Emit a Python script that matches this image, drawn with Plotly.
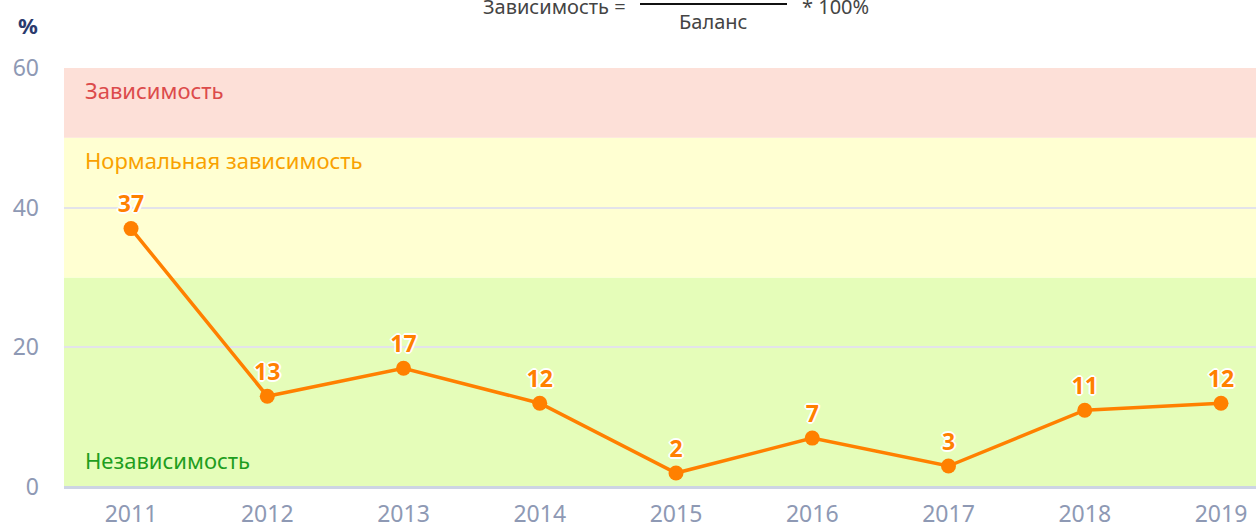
import plotly.graph_objects as go

years = ["2011", "2012", "2013", "2014", "2015", "2016", "2017", "2018", "2019"]
values = [37, 13, 17, 12, 2, 7, 3, 11, 12]

# зоны: нижняя граница, верхняя граница, цвет фона, подпись, цвет подписи
zone_low = [0, 30, 50]
zone_high = [30, 50, 60]
zone_fill = ["#e5fdb9", "#ffffd2", "#fde0d8"]
zone_names = ["Независимость", "Нормальная зависимость", "Зависимость"]
zone_text = ["#1e9e1e", "#f9a100", "#dc4b4b"]

W, H = 1256, 529
L, R, T, B = 64, 0, 68, 42
FONT = "Noto Sans"

idx = list(range(len(years)))


def px_y(py):
    # пиксель -> paper по вертикали
    return (H - B - py) / (H - T - B)


def px_x(px):
    return (px - L) / (W - L - R)


fig = go.Figure()

fig.add_trace(go.Scatter(
    x=idx,
    y=values,
    mode="lines+markers+text",
    line=dict(color="#ff8000", width=3.5),
    marker=dict(color="#ff8000", size=15),
    text=[str(v) for v in values],
    textposition="top center",
    textfont=dict(family=FONT, size=23, color="#ff8000", weight="bold",
                  shadow="1px 1px 0 #fff, -1px -1px 0 #fff, 1px -1px 0 #fff, -1px 1px 0 #fff, 0 2px 0 #fff, 0 -2px 0 #fff, 2px 0 0 #fff, -2px 0 0 #fff"),
    showlegend=False,
    cliponaxis=False,
))

for lo, hi, fill, name, col in zip(zone_low, zone_high, zone_fill, zone_names, zone_text):
    fig.add_shape(type="rect", xref="paper", yref="y", x0=0, x1=1, y0=lo, y1=hi,
                  fillcolor=fill, line_width=0, layer="below")
    if lo == 0:
        # нижняя зона — подпись у нижнего края
        fig.add_annotation(text=name, xref="paper", yref="y", x=px_x(83), y=lo,
                           xanchor="left", yanchor="bottom", yshift=10, showarrow=False,
                           font=dict(family=FONT, size=22, color=col))
    else:
        fig.add_annotation(text=name, xref="paper", yref="y", x=px_x(83), y=hi,
                           xanchor="left", yanchor="top", yshift=-5, showarrow=False,
                           font=dict(family=FONT, size=22, color=col))

# формула сверху (в оригинале обрезана сверху)
fig.add_annotation(text="Зависимость =", xref="paper", yref="paper",
                   x=px_x(628), y=px_y(6), xanchor="right", yanchor="middle",
                   showarrow=False, font=dict(family=FONT, size=20, color="#444"))
fig.add_annotation(text="Баланс", xref="paper", yref="paper",
                   x=px_x(713), y=px_y(22), xanchor="center", yanchor="middle",
                   showarrow=False, font=dict(family=FONT, size=20, color="#444"))
fig.add_annotation(text="* 100%", xref="paper", yref="paper",
                   x=px_x(800), y=px_y(6), xanchor="left", yanchor="middle",
                   showarrow=False, font=dict(family=FONT, size=20, color="#444"))
fig.add_shape(type="line", xref="paper", yref="paper",
              x0=px_x(640), x1=px_x(787), y0=px_y(4), y1=px_y(4),
              line=dict(color="#111", width=2))

fig.add_annotation(text="<b>%</b>", xref="paper", yref="paper",
                   x=px_x(28), y=px_y(25), xanchor="center", yanchor="middle",
                   showarrow=False, font=dict(family=FONT, size=22, color="#2b3a6e"))

fig.update_layout(
    width=W, height=H,
    margin=dict(l=L, r=R, t=T, b=B, autoexpand=False),
    paper_bgcolor="white",
    plot_bgcolor="white",
    font=dict(family=FONT, color="#8e99b4"),
    xaxis=dict(
        range=[-0.492, 8.257],
        tickvals=idx,
        ticktext=years,
        showgrid=False,
        zeroline=False,
        showline=False,
        ticks="",
        automargin=False,
        tickfont=dict(size=23, color="#8e99b4"),
        ticklabelstandoff=11,
    ),
    yaxis=dict(
        range=[0, 60],
        tickvals=[0, 20, 40, 60],
        showgrid=True,
        gridcolor="#e3e3ea",
        gridwidth=2,
        zeroline=True,
        zerolinecolor="#cdd4e4",
        zerolinewidth=3,
        ticks="",
        automargin=False,
        tickfont=dict(size=23, color="#8e99b4"),
        ticklabelstandoff=24,
    ),
)

fig.write_html("out.html", config={"displayModeBar": False},
               post_script="document.body.style.margin='0';")
